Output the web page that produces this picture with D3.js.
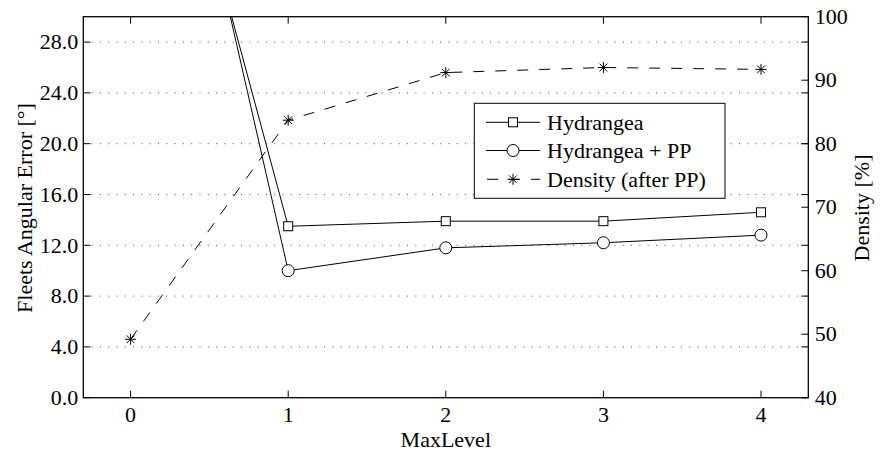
<!DOCTYPE html>
<html>
<head>
<meta charset="utf-8">
<script src="https://d3js.org/d3.v7.min.js"></script>
<style>
  body { margin: 0; background: #fff; }
  text { font-family: "Liberation Serif", "Times New Roman", serif; fill: #000; }
</style>
</head>
<body>
<script>
// data
var levels = [0, 1, 2, 3, 4];
var hydrangea = [59.5, 13.5, 13.9, 13.9, 14.6];
var hydrangeaPP = [64.5, 10.0, 11.8, 12.2, 12.8];
var density = [49.2, 83.7, 91.2, 92.0, 91.7];
var leftTicks = [0, 4, 8, 12, 16, 20, 24, 28];
var rightTicks = [40, 50, 60, 70, 80, 90, 100];
var legendNames = ["Hydrangea", "Hydrangea + PP", "Density (after PP)"];

var width = 883, height = 453;
var m = {left: 83.3, right: 808.3, top: 16.7, bottom: 397.7};
var fs = 22;

var svg = d3.select("body").append("svg")
  .attr("width", width)
  .attr("height", height)
  .attr("font-family", "Liberation Serif, serif");

var x = d3.scaleLinear().domain([-0.3, 4.3]).range([m.left, m.right]);
var y = d3.scaleLinear().domain([0, 30]).range([m.bottom, m.top]);
var y2 = d3.scaleLinear().domain([40, 100]).range([m.bottom, m.top]);

svg.append("clipPath").attr("id", "clip")
  .append("rect")
  .attr("x", m.left).attr("y", m.top)
  .attr("width", m.right - m.left).attr("height", m.bottom - m.top);

// dotted grid
svg.selectAll(".grid").data(leftTicks.slice(1))
  .enter().append("line")
  .attr("x1", m.left).attr("x2", m.right)
  .attr("y1", function(d){ return y(d); })
  .attr("y2", function(d){ return y(d); })
  .attr("stroke", "#444")
  .attr("stroke-width", 1)
  .attr("stroke-dasharray", "1,7.3");

var tl = 7;
// left ticks + mirrored on the right
svg.selectAll(".lt").data(leftTicks).enter().append("path")
  .attr("d", function(d){ return "M" + m.left + "," + y(d) + "h" + tl + "M" + m.right + "," + y(d) + "h" + (-tl); })
  .attr("stroke", "#000").attr("stroke-width", 1);
// right axis ticks
svg.selectAll(".rt").data(rightTicks).enter().append("path")
  .attr("d", function(d){ return "M" + m.right + "," + y2(d) + "h" + (-tl); })
  .attr("stroke", "#000").attr("stroke-width", 1);
// x ticks bottom and top
svg.selectAll(".xt").data(levels).enter().append("path")
  .attr("d", function(d){ return "M" + x(d) + "," + m.bottom + "v" + (-tl) + "M" + x(d) + "," + m.top + "v" + tl; })
  .attr("stroke", "#000").attr("stroke-width", 1);

// tick labels
svg.selectAll(".ltl").data(leftTicks).enter().append("text")
  .attr("x", m.left - 5).attr("y", function(d){ return y(d); })
  .attr("dy", "0.33em").attr("text-anchor", "end")
  .style("font-size", fs + "px")
  .text(function(d){ return d.toFixed(1); });
svg.selectAll(".rtl").data(rightTicks).enter().append("text")
  .attr("x", m.right + 6.5).attr("y", function(d){ return y2(d); })
  .attr("dy", "0.33em").attr("text-anchor", "start")
  .style("font-size", fs + "px")
  .text(function(d){ return d; });
svg.selectAll(".xtl").data(levels).enter().append("text")
  .attr("x", function(d){ return x(d); }).attr("y", 421.5)
  .attr("text-anchor", "middle")
  .style("font-size", fs + "px")
  .text(function(d){ return d; });

// axis labels
svg.append("text").attr("x", (m.left + m.right) / 2).attr("y", 447)
  .attr("text-anchor", "middle").style("font-size", fs + "px").text("MaxLevel");
svg.append("text").attr("transform", "translate(31.5,208) rotate(-90)")
  .attr("text-anchor", "middle").style("font-size", fs + "px").text("Fleets Angular Error [°]");
svg.append("text").attr("transform", "translate(868.5,208) rotate(-90)")
  .attr("text-anchor", "middle").style("font-size", fs + "px").text("Density [%]");

// lines
var plot = svg.append("g").attr("clip-path", "url(#clip)");
var line1 = d3.line().x(function(d, i){ return x(levels[i]); }).y(function(d){ return y(d); });
var line2 = d3.line().x(function(d, i){ return x(levels[i]); }).y(function(d){ return y2(d); });

plot.append("path").attr("d", line1(hydrangea)).attr("fill", "none").attr("stroke", "#000").attr("stroke-width", 1);
plot.append("path").attr("d", line1(hydrangeaPP)).attr("fill", "none").attr("stroke", "#000").attr("stroke-width", 1);
plot.append("path").attr("d", line2(density)).attr("fill", "none").attr("stroke", "#000").attr("stroke-width", 1)
  .attr("stroke-dasharray", "11,11");

function square(g, cx, cy) {
  g.append("rect").attr("x", cx - 4.5).attr("y", cy - 4.5).attr("width", 9).attr("height", 9)
    .attr("fill", "#fff").attr("stroke", "#000").attr("stroke-width", 1);
}
function circle(g, cx, cy) {
  g.append("circle").attr("cx", cx).attr("cy", cy).attr("r", 6)
    .attr("fill", "#fff").attr("stroke", "#000").attr("stroke-width", 1);
}
function star(g, cx, cy) {
  var r = 5.5, d = 3.9;
  g.append("path")
    .attr("d", "M" + (cx - r) + "," + cy + "h" + (2 * r) +
               "M" + cx + "," + (cy - r) + "v" + (2 * r) +
               "M" + (cx - d) + "," + (cy - d) + "l" + (2 * d) + "," + (2 * d) +
               "M" + (cx - d) + "," + (cy + d) + "l" + (2 * d) + "," + (-2 * d))
    .attr("stroke", "#000").attr("stroke-width", 1);
}

hydrangea.forEach(function(v, i){ if (v <= 30) square(plot, x(levels[i]), y(v)); });
hydrangeaPP.forEach(function(v, i){ if (v <= 30) circle(plot, x(levels[i]), y(v)); });
density.forEach(function(v, i){ star(plot, x(levels[i]), y2(v)); });

// axes box
svg.append("rect").attr("x", m.left).attr("y", m.top)
  .attr("width", m.right - m.left).attr("height", m.bottom - m.top)
  .attr("fill", "none").attr("stroke", "#000").attr("stroke-width", 1.3);

// legend
var lg = svg.append("g");
lg.append("rect").attr("x", 474.3).attr("y", 103.3).attr("width", 250.7).attr("height", 95)
  .attr("fill", "#fff").attr("stroke", "#000").attr("stroke-width", 1);
var ly = [122.3, 150.5, 179.3];
legendNames.forEach(function(name, i){
  var yy = ly[i];
  var l = lg.append("line").attr("x1", 486).attr("x2", 540).attr("y1", yy).attr("y2", yy)
    .attr("stroke", "#000").attr("stroke-width", 1);
  if (i === 2) l.attr("stroke-dasharray", "11,11").attr("stroke-dashoffset", -1);
  if (i === 0) square(lg, 513, yy);
  if (i === 1) circle(lg, 513, yy);
  if (i === 2) star(lg, 513, yy);
  lg.append("text").attr("x", 547).attr("y", yy).attr("dy", "0.35em")
    .style("font-size", fs + "px").text(name);
});
</script>
</body>
</html>
